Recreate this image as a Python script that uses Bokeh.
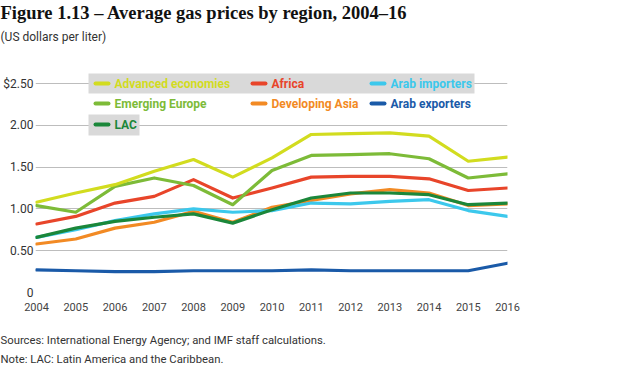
from bokeh.plotting import figure
from bokeh.models import Range1d, FixedTicker, Label, BoxAnnotation, Title
from bokeh.embed import file_html
from bokeh.resources import INLINE

years = list(range(2004, 2017))
advanced = [1.08, 1.19, 1.29, 1.45, 1.59, 1.38, 1.61, 1.89, 1.90, 1.91, 1.87, 1.57, 1.62]
emerging_europe = [1.04, 0.96, 1.27, 1.37, 1.28, 1.05, 1.46, 1.64, 1.65, 1.66, 1.60, 1.37, 1.42]
africa = [0.82, 0.91, 1.07, 1.15, 1.35, 1.13, 1.25, 1.38, 1.39, 1.39, 1.36, 1.22, 1.25]
lac = [0.66, 0.77, 0.85, 0.90, 0.94, 0.83, 0.99, 1.13, 1.19, 1.19, 1.17, 1.05, 1.07]
dev_asia = [0.58, 0.64, 0.77, 0.84, 0.97, 0.84, 1.02, 1.10, 1.18, 1.23, 1.19, 1.04, 1.06]
arab_importers = [0.66, 0.75, 0.86, 0.94, 1.00, 0.96, 0.98, 1.07, 1.06, 1.09, 1.11, 0.98, 0.91]
arab_exporters = [0.27, 0.26, 0.25, 0.25, 0.26, 0.26, 0.26, 0.27, 0.26, 0.26, 0.26, 0.26, 0.35]

y_ticks = [0, 0.5, 1.0, 1.5, 2.0, 2.5]
y_tick_labels = ["0", "0.50", "1.00", "1.50", "2.00", "$2.50"]

series = [
    ("Advanced economies", advanced, "#d2dc1f"),
    ("Africa", africa, "#e8452a"),
    ("Arab importers", arab_importers, "#3cc8ec"),
    ("Emerging Europe", emerging_europe, "#7dbb38"),
    ("Developing Asia", dev_asia, "#f28a24"),
    ("Arab exporters", arab_exporters, "#1a5aa8"),
    ("LAC", lac, "#1b873a"),
]
draw_order = ["Arab exporters", "Developing Asia", "Arab importers", "LAC", "Africa",
              "Emerging Europe", "Advanced economies"]

FONT = "Roboto"

# page geometry of the plotting frame
FR_LEFT, FR_TOP, FR_BOTTOM, FR_RIGHT = 34, 70, 292, 507
PX_PER_UNIT = (292 - 83) / 2.5
y_top = 2.5 + (83 - FR_TOP) / PX_PER_UNIT
x_left = 2004 - (35 - FR_LEFT) * 12 / (FR_RIGHT - 35)
TXT_OFF = -35

p = figure(width=608, height=369, output_backend="svg", toolbar_location=None,
           x_range=Range1d(x_left, 2016), y_range=Range1d(0, y_top),
           min_border_left=FR_LEFT, min_border_right=608 - FR_RIGHT,
           min_border_top=FR_TOP, min_border_bottom=369 - FR_BOTTOM)
p.outline_line_color = None
p.background_fill_color = "white"
p.border_fill_color = "white"

# titles: p.title is outermost, added titles sit nearer the frame (first added = nearest)
p.add_layout(Title(text=" ", text_font_size="1px", standoff=17), "above")
p.add_layout(Title(text="(US dollars per liter)", text_font=FONT, text_font_style="normal",
                   text_font_size="12px", text_color="#333333", vertical_align="top",
                   align="left", offset=TXT_OFF, standoff=10), "above")
p.title.text = "Figure 1.13 \u2013 Average gas prices by region, 2004\u201316"
p.title.text_font = "Liberation Serif"
p.title.text_font_style = "bold"
p.title.text_font_size = "18.5px"
p.title.text_color = "#111111"
p.title.align = "left"
p.title.vertical_align = "top"
p.title.offset = TXT_OFF
p.title.standoff = 0

p.xgrid.grid_line_color = None
p.ygrid.grid_line_color = "#bdbdbd"
p.ygrid.grid_line_width = 1
p.ygrid.ticker = FixedTicker(ticks=y_ticks)

p.yaxis.ticker = FixedTicker(ticks=y_ticks)
p.yaxis.major_label_overrides = {t: l for t, l in zip(y_ticks, y_tick_labels)}
p.yaxis.axis_line_color = None
p.yaxis.major_tick_line_color = None
p.yaxis.minor_tick_line_color = None
p.yaxis.major_tick_out = 0
p.yaxis.major_tick_in = 0
p.yaxis.major_label_standoff = 2
p.yaxis.major_label_text_font = FONT
p.yaxis.major_label_text_font_size = "12px"
p.yaxis.major_label_text_color = "#333333"

p.xaxis.ticker = FixedTicker(ticks=years)
p.xaxis.major_label_overrides = {y: str(y) for y in years}
p.xaxis.axis_line_color = None
p.xaxis.major_tick_line_color = None
p.xaxis.minor_tick_line_color = None
p.xaxis.major_tick_out = 0
p.xaxis.major_tick_in = 0
p.xaxis.major_label_standoff = 10
p.xaxis.major_label_text_font = FONT
p.xaxis.major_label_text_font_size = "11px"
p.xaxis.major_label_text_color = "#444444"

p.add_layout(Title(text=" ", text_font_size="1px", standoff=17), "below")
p.add_layout(Title(text="Sources: International Energy Agency; and IMF staff calculations.\n"
                        "Note: LAC: Latin America and the Caribbean.",
                   text_font=FONT, text_font_size="11.3px", text_color="#333333",
                   text_line_height=1.5, text_font_style="normal", vertical_align="top",
                   align="left", offset=TXT_OFF, standoff=0), "below")

lookup = {name: (vals, col) for name, vals, col in series}
for name in draw_order:
    vals, col = lookup[name]
    p.line(years, vals, line_color=col, line_width=3.2, line_join="round", line_cap="round")

# frame-relative screen coordinates helpers
def fx(page_x):
    return page_x - FR_LEFT

def fy(page_y):
    return FR_BOTTOM - page_y

# legend gray bands
for (l, r, t, b) in [(87, 473, 73, 93), (87, 138, 114, 135)]:
    p.add_layout(BoxAnnotation(left=fx(l), right=fx(r), top=fy(t), bottom=fy(b),
                               left_units="screen", right_units="screen",
                               top_units="screen", bottom_units="screen",
                               fill_color="#d9d9d9", fill_alpha=1, line_color=None,
                               level="underlay"))

col_x = [92, 249, 368]
row_y = [83, 103, 124]
for i, (name, vals, col) in enumerate(series):
    r, c = divmod(i, 3)
    sx, sy = col_x[c], row_y[r]
    p.add_layout(BoxAnnotation(left=fx(sx), right=fx(sx + 17), top=fy(sy - 2), bottom=fy(sy + 2),
                               left_units="screen", right_units="screen",
                               top_units="screen", bottom_units="screen",
                               fill_color=col, fill_alpha=1, line_color=None, border_radius=2))
    p.add_layout(Label(x=fx(sx + 21), y=fy(sy), x_units="screen", y_units="screen", text=name,
                       text_font=FONT, text_font_style="bold", text_font_size="12px",
                       text_color=col, text_baseline="middle", text_align="left"))

open("out.html", "w").write(file_html(p, INLINE))
